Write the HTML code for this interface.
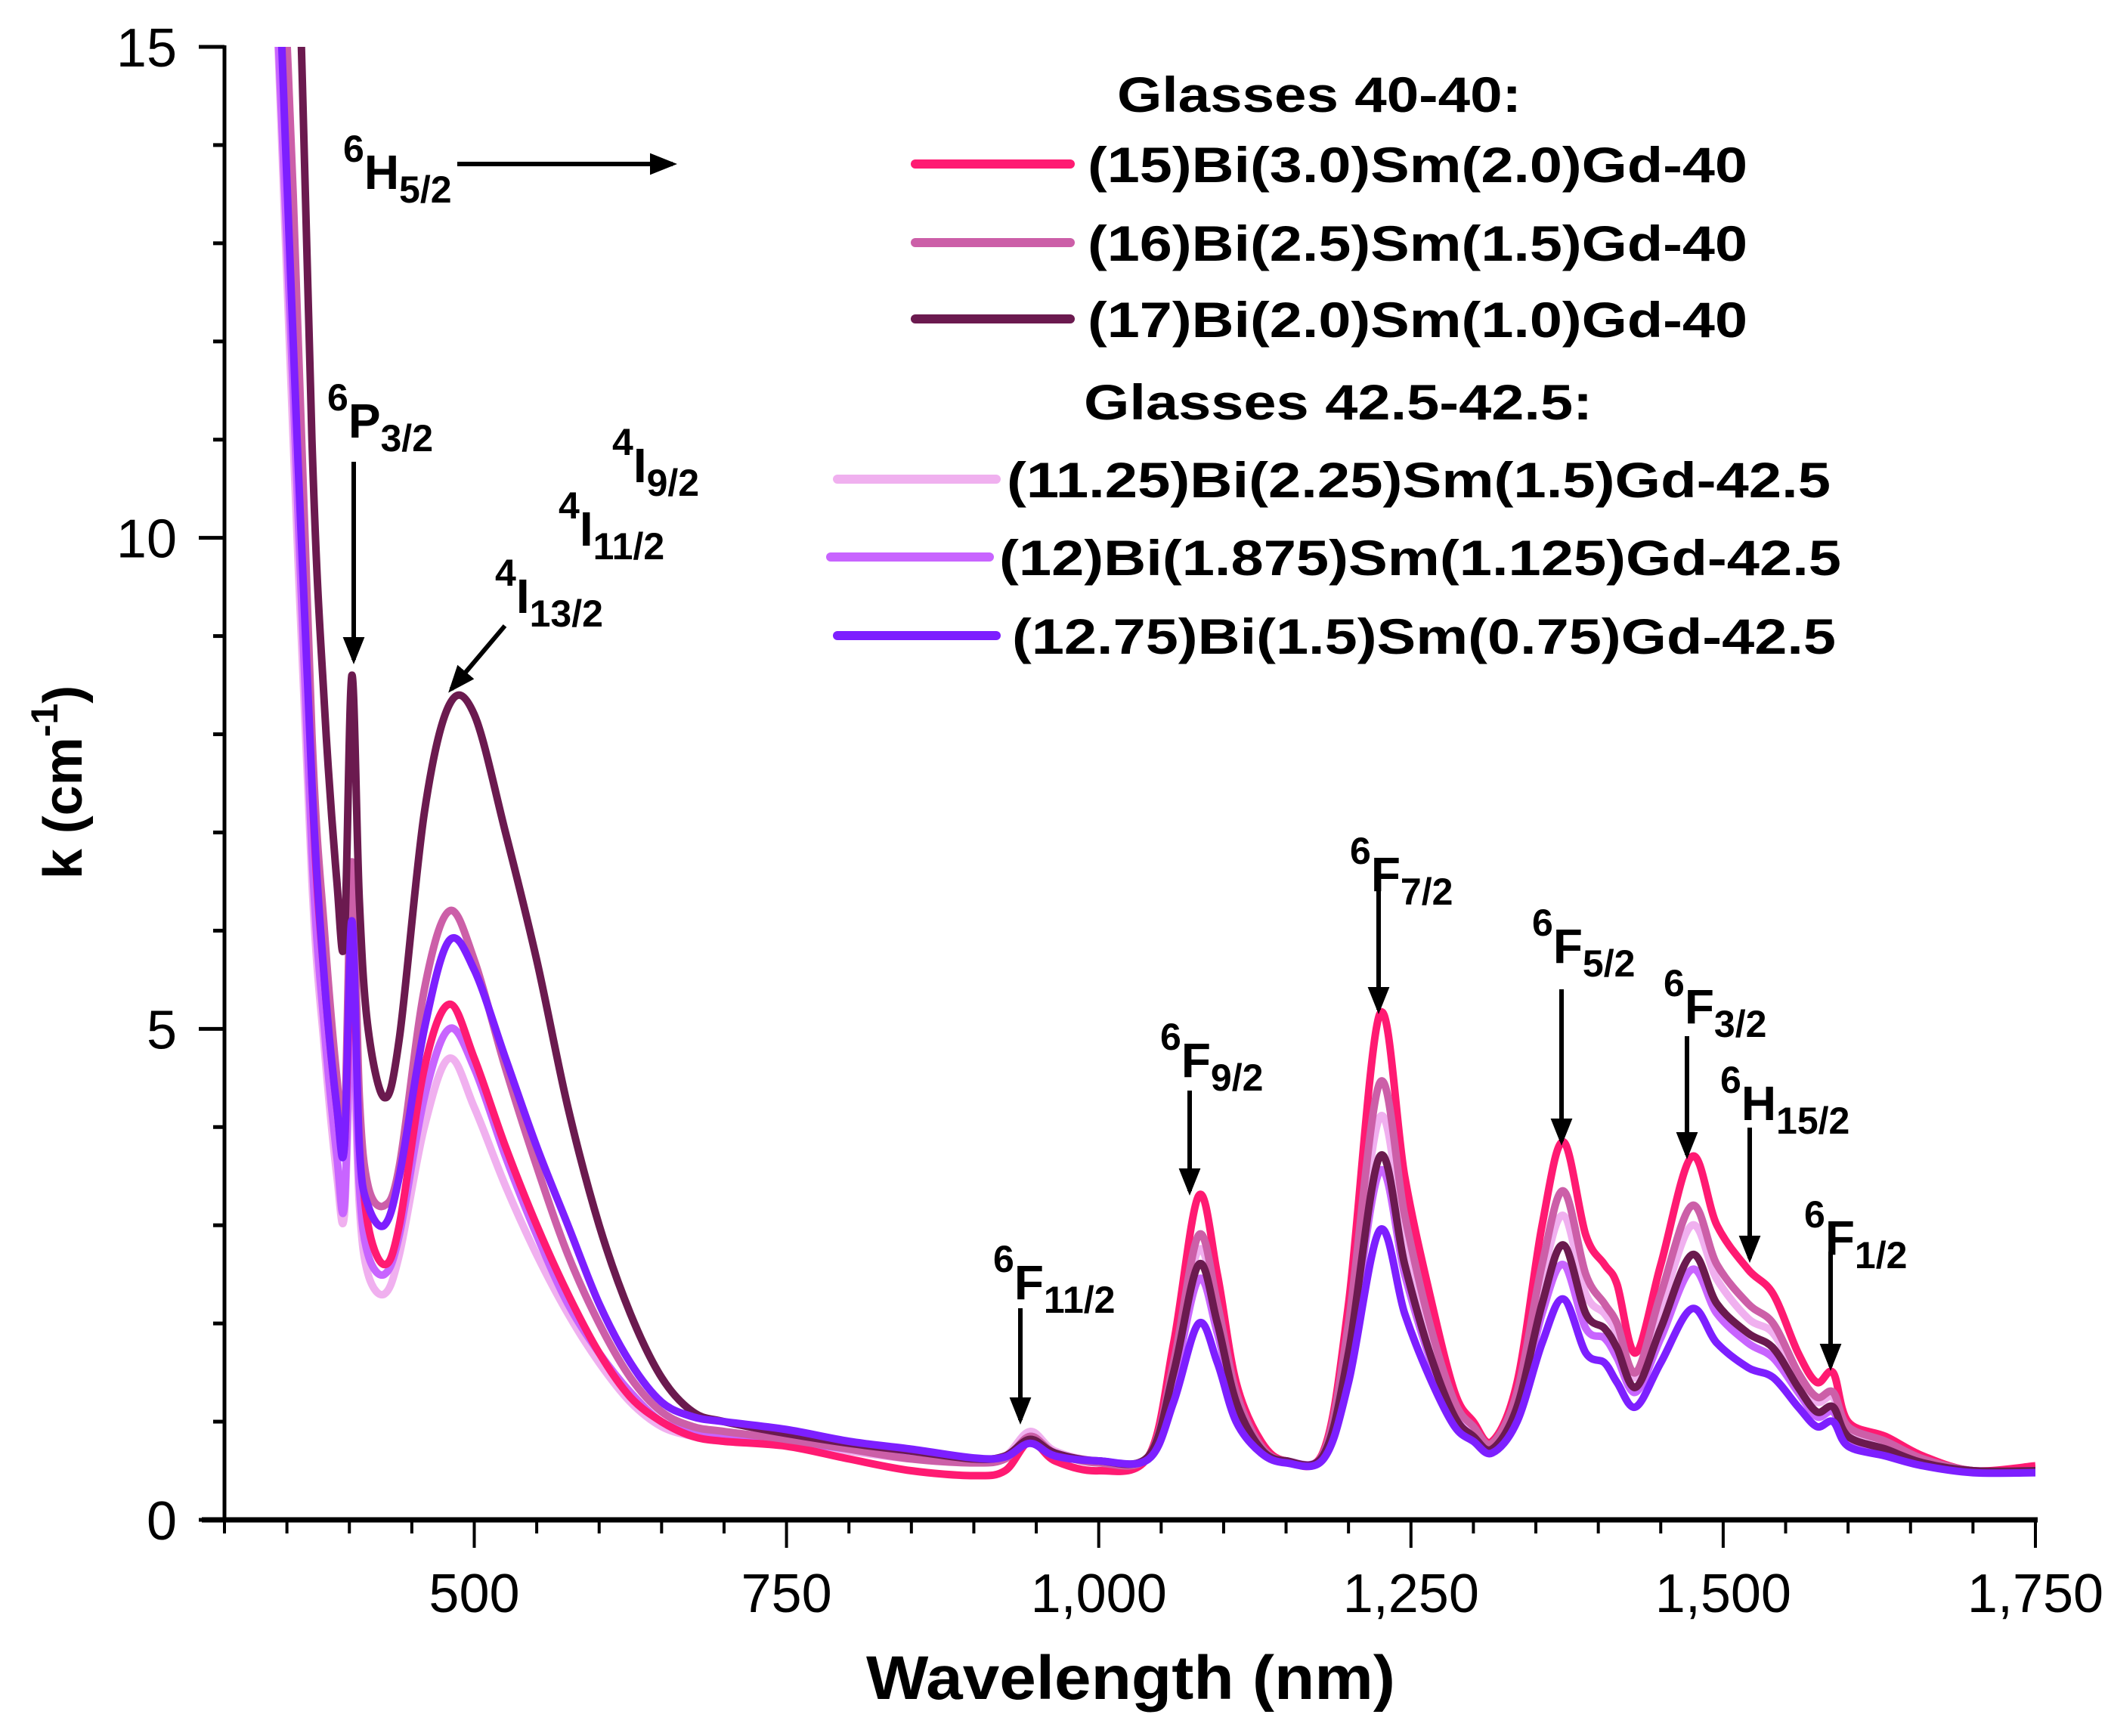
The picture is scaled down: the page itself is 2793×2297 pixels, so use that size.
<!DOCTYPE html>
<html><head><meta charset="utf-8">
<style>
html,body{margin:0;padding:0;background:#fff;}
svg{display:block;font-family:"Liberation Sans",Arial,sans-serif;}
</style></head>
<body>
<svg id="chart" width="2793" height="2297" viewBox="0 0 2793 2297" xmlns="http://www.w3.org/2000/svg">
<defs><clipPath id="plotclip"><rect x="297" y="62" width="2396" height="1949"/></clipPath>
<marker id="ah" markerWidth="6" markerHeight="6" refX="5" refY="3" orient="auto" markerUnits="strokeWidth"><path d="M0,0.6 L6,3 L0,5.4 Z" fill="#000"/></marker></defs>
<g id="series" clip-path="url(#plotclip)"></g>
<g id="axes"></g>
<g id="annot"></g>
<g id="legend"></g>
</svg>
<script>
const wavelengths=[340,355,370,380,390,396,402,408,415,428,440,460,480,500,525,550,575,600,625,650,675,700,750,800,850,900,925,945,965,1000,1040,1060,1080,1095,1110,1130,1150,1180,1200,1225,1245,1265,1285,1300,1315,1335,1355,1372,1390,1405,1415,1430,1450,1475,1495,1520,1540,1560,1575,1588,1600,1630,1660,1700,1750];
const s15=[18,13,7.5,5.5,4.2,3.8,5.8,4.0,3.0,2.6,3.0,4.6,5.25,4.7,3.8,3.0,2.3,1.7,1.25,1.0,0.85,0.8,0.75,0.62,0.5,0.45,0.5,0.8,0.6,0.5,0.65,1.8,3.3,2.5,1.4,0.8,0.6,0.7,2.2,5.15,3.5,2.3,1.3,1.0,0.8,1.4,3.0,3.85,2.9,2.6,2.4,1.7,2.6,3.7,3.0,2.55,2.3,1.7,1.4,1.5,1.0,0.85,0.65,0.5,0.55];
const s16=[18,13.5,8,6,4.5,4.0,6.7,4.3,3.4,3.2,3.6,5.4,6.2,5.7,4.6,3.6,2.7,2.0,1.45,1.1,0.95,0.9,0.82,0.72,0.62,0.58,0.62,0.85,0.68,0.58,0.65,1.6,2.9,2.2,1.3,0.75,0.6,0.68,2.0,4.45,3.1,2.0,1.2,0.95,0.78,1.3,2.6,3.35,2.5,2.2,2.0,1.5,2.3,3.2,2.6,2.2,2.0,1.5,1.25,1.3,0.95,0.8,0.62,0.5,0.5];
const s17=[22,18,11,8.3,6.5,5.9,8.6,6.3,5.0,4.3,4.9,7.2,8.3,8.2,7.0,5.7,4.2,3.0,2.1,1.45,1.1,1.0,0.88,0.78,0.7,0.62,0.65,0.82,0.68,0.6,0.65,1.5,2.6,2.0,1.2,0.72,0.6,0.66,1.7,3.7,2.6,1.7,1.05,0.85,0.72,1.15,2.2,2.8,2.1,1.95,1.75,1.35,1.95,2.7,2.2,1.9,1.75,1.35,1.1,1.15,0.85,0.72,0.58,0.5,0.5];
const s1125=[16,11,6.5,4.8,3.5,3.1,5.0,3.2,2.5,2.3,2.7,4.0,4.7,4.2,3.4,2.7,2.1,1.6,1.2,0.95,0.85,0.8,0.78,0.7,0.62,0.6,0.65,0.9,0.7,0.6,0.65,1.55,2.75,2.1,1.25,0.75,0.6,0.68,1.85,4.1,2.85,1.85,1.15,0.9,0.75,1.25,2.45,3.1,2.3,2.1,1.9,1.45,2.15,3.0,2.45,2.05,1.9,1.45,1.2,1.25,0.9,0.78,0.6,0.5,0.5];
const s12=[16,11.5,6.8,5.0,3.7,3.2,5.3,3.4,2.7,2.5,2.9,4.3,5.0,4.6,3.7,2.9,2.2,1.7,1.3,1.0,0.9,0.85,0.8,0.72,0.64,0.6,0.62,0.85,0.68,0.6,0.63,1.4,2.45,1.9,1.15,0.72,0.6,0.66,1.65,3.55,2.5,1.65,1.05,0.85,0.72,1.1,2.1,2.6,1.95,1.85,1.65,1.3,1.85,2.55,2.1,1.8,1.65,1.3,1.05,1.1,0.82,0.7,0.56,0.5,0.5];
const s1275=[17,12,7.5,5.5,4.2,3.8,6.1,3.8,3.2,3.0,3.5,5.0,5.9,5.6,4.7,3.8,3.0,2.2,1.6,1.2,1.05,1.0,0.92,0.8,0.72,0.63,0.64,0.78,0.65,0.6,0.62,1.2,2.0,1.6,1.0,0.68,0.58,0.62,1.4,2.95,2.1,1.45,0.95,0.8,0.68,1.0,1.8,2.25,1.7,1.6,1.4,1.15,1.6,2.15,1.8,1.55,1.45,1.15,0.95,1.0,0.75,0.65,0.55,0.48,0.48];
const seriesNames=["(15)Bi(3.0)Sm(2.0)Gd-40","(16)Bi(2.5)Sm(1.5)Gd-40","(17)Bi(2.0)Sm(1.0)Gd-40","(11.25)Bi(2.25)Sm(1.5)Gd-42.5","(12)Bi(1.875)Sm(1.125)Gd-42.5","(12.75)Bi(1.5)Sm(0.75)Gd-42.5"];
const xTicks=[500,750,1000,1250,1500,1750];
const xTickLabels=["500","750","1,000","1,250","1,500","1,750"];
const yTicks=[0,5,10,15];
const yTickLabels=["0","5","10","15"];

const NS="http://www.w3.org/2000/svg";
const X0=297,X1=2693,Y0=2011,Y1=62,XMIN=300,XMAX=1750,YMIN=0,YMAX=15;
function xs(v){return X0+(v-XMIN)/(XMAX-XMIN)*(X1-X0);}
function ys(v){return Y0-(v-YMIN)/(YMAX-YMIN)*(Y0-Y1);}
function mk(tag,attrs,parent){const e=document.createElementNS(NS,tag);for(const k in attrs)e.setAttribute(k,attrs[k]);parent.appendChild(e);return e;}

const seriesData=[s15,s16,s17,s1125,s12,s1275];
const colors=["#ff1a72","#cc5fa8","#6b1a4f","#f0b0ef","#c864ff","#7d1fff"];
const drawOrder=[3,4,0,1,2,5];
const sg=document.getElementById('series');
function pathFor(arr){
  const p=wavelengths.map((w,i)=>[xs(w),ys(arr[i])]);
  let d="M"+p[0][0].toFixed(1)+","+p[0][1].toFixed(1);
  for(let i=0;i<p.length-1;i++){
    const a=p[Math.max(i-1,0)],b=p[i],c=p[i+1],e=p[Math.min(i+2,p.length-1)];
    const c1x=b[0]+(c[0]-a[0])/6,c1y=b[1]+(c[1]-a[1])/6,c2x=c[0]-(e[0]-b[0])/6,c2y=c[1]-(e[1]-b[1])/6;
    d+=" C"+c1x.toFixed(1)+","+c1y.toFixed(1)+" "+c2x.toFixed(1)+","+c2y.toFixed(1)+" "+c[0].toFixed(1)+","+c[1].toFixed(1);
  }
  return d;
}
drawOrder.forEach(k=>{
  const el=mk('path',{d:pathFor(seriesData[k]),fill:'none',stroke:colors[k],'stroke-width':10,'stroke-linejoin':'round'},sg);
  
  
});

const ax=document.getElementById('axes');
let e;
e=mk('line',{x1:X0,y1:Y1-2,x2:X0,y2:Y0+3,stroke:'#000','stroke-width':5},ax);

e=mk('line',{x1:X0-30,y1:Y0,x2:X1+3,y2:Y0,stroke:'#000','stroke-width':7},ax);

for(let v=300;v<=1750;v+=50){
  const major=xTicks.indexOf(v)>=0;
  e=mk('line',{x1:xs(v),y1:Y0,x2:xs(v),y2:Y0+(major?37:18),stroke:'#000','stroke-width':4},ax);
  
}
xTicks.forEach((v,i)=>{
  e=mk('text',{x:xs(v),y:2133,'font-size':72,'text-anchor':'middle',fill:'#000'},ax);
  e.textContent=xTickLabels[i];
  
});
for(let v=0;v<=15;v+=1){
  const major=yTicks.indexOf(v)>=0;
  e=mk('line',{x1:X0-(major?34:15),y1:ys(v),x2:X0,y2:ys(v),stroke:'#000','stroke-width':5},ax);
  
}
yTicks.forEach((v,i)=>{
  e=mk('text',{x:234,y:ys(v)+26,'font-size':72,'text-anchor':'end',fill:'#000'},ax);
  e.textContent=yTickLabels[i];
  
});
e=mk('text',{x:1496,y:2248,'font-size':82,'font-weight':'bold','text-anchor':'middle',textLength:700,lengthAdjust:'spacingAndGlyphs'},ax);
e.textContent="Wavelength (nm)";

e=mk('text',{transform:'translate(108,1035) rotate(-90)','font-size':72,'font-weight':'bold','text-anchor':'middle'},ax);
e.innerHTML='k (cm<tspan dy="-32" font-size="50">-1</tspan><tspan dy="32">)</tspan>';


const an=document.getElementById('annot');
const labels=[["6","H","5/2",454,214],["6","P","3/2",433,543],["4","I","9/2",810,602],["4","I","11/2",739,686],["4","I","13/2",655,775],["6","F","11/2",1314,1683],["6","F","9/2",1535,1389],["6","F","7/2",1786,1143],["6","F","5/2",2027,1238],["6","F","3/2",2201,1318],["6","H","15/2",2276,1446],["6","F","1/2",2387,1624]];
labels.forEach(l=>{
  e=mk('text',{x:l[3],y:l[4],'font-weight':'bold','font-size':50},an);
  e.innerHTML='<tspan>'+l[0]+'</tspan><tspan font-size="64" dy="36">'+l[1]+'</tspan><tspan dy="18">'+l[2]+'</tspan>';
  
});
const arrows=[[605,217,890,217],[468,611,468,873],[668,828,597,912],[1350,1731,1350,1879],[1574,1443,1574,1576],[1824,1175,1824,1336],[2066,1309,2066,1510],[2232,1371,2232,1528],[2315,1492,2315,1665],[2422,1656,2422,1808]];
arrows.forEach(a=>{
  e=mk('line',{x1:a[0],y1:a[1],x2:a[2],y2:a[3],stroke:'#000','stroke-width':6,'marker-end':'url(#ah)'},an);
  
});

const lg=document.getElementById('legend');
const heads=[["Glasses 40-40:",1478,148,535],["Glasses 42.5-42.5:",1434,555,673]];
heads.forEach(h=>{
  e=mk('text',{x:h[1],y:h[2],'font-size':66,'font-weight':'bold',textLength:h[3],lengthAdjust:'spacingAndGlyphs'},lg);
  e.textContent=h[0];
  
});
const lEnt=[[1211,1416,1439,873,217],[1211,1416,1439,873,321],[1211,1416,1439,873,422],[1108,1318,1332,1090,634],[1099,1309,1322,1114,737],[1108,1318,1339,1090,841]];
lEnt.forEach((r,i)=>{
  e=mk('line',{x1:r[0],y1:r[4],x2:r[1],y2:r[4],stroke:colors[i],'stroke-width':12,'stroke-linecap':'round'},lg);
  
  e=mk('text',{x:r[2],y:r[4]+24,'font-size':66,'font-weight':'bold',textLength:r[3],lengthAdjust:'spacingAndGlyphs'},lg);
  e.textContent=seriesNames[i];
  
});
</script>
</body></html>
